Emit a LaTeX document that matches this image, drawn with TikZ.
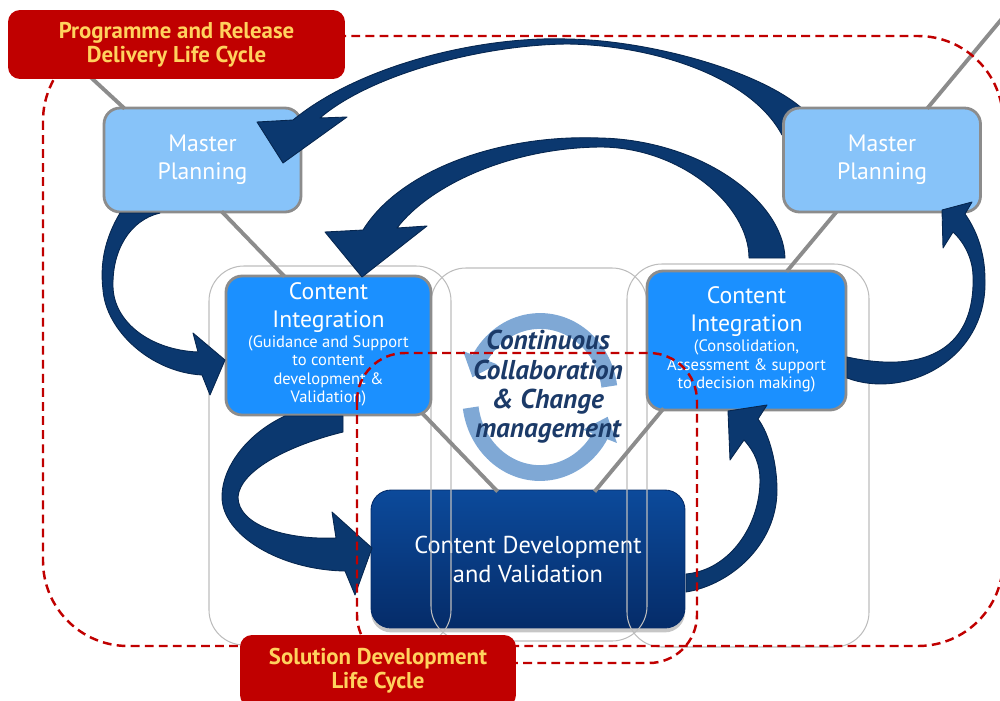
\documentclass[tikz,border=0pt]{standalone}
\usepackage{fontspec}
\setmainfont{PT Sans}
\usetikzlibrary{positioning}
\usetikzlibrary{arrows.meta}
\usetikzlibrary{calc}
\usetikzlibrary{shadows}
\usetikzlibrary{bending}

\definecolor{mpFill}{HTML}{87C3F9}
\definecolor{ciFill}{HTML}{1B90FF}
\definecolor{boxEdge}{HTML}{8C8C8C}
\definecolor{cdTop}{HTML}{0C4A9B}
\definecolor{cdBottom}{HTML}{052C69}
\definecolor{arrowBlue}{HTML}{0B386F}
\definecolor{arrowEdge}{HTML}{06264F}
\definecolor{lblRed}{HTML}{C00000}
\definecolor{lblGold}{HTML}{FFD25E}
\definecolor{colGray}{HTML}{BDBDBD}
\definecolor{ringBlue}{HTML}{7FA8D5}
\definecolor{ccNavy}{HTML}{1B3A68}

\newcommand{\ciNote}[1]{{\fontsize{9.4}{10.5}\selectfont\begin{tabular}{@{}c@{}}#1\end{tabular}}}

\tikzset{
  box/.style={rectangle, rounded corners=0.32cm, draw=boxEdge, line width=1.6pt, text=white, align=center},
  mpbox/.style={box, fill=mpFill, minimum width=3.94cm, minimum height=2.08cm, font=\fontsize{13.5}{16}\selectfont},
  cibox/.style={box, fill=ciFill, minimum width=4.1cm, minimum height=2.78cm, inner sep=1pt, font=\fontsize{13.5}{16}\selectfont},
  cdbox/.style={rectangle, rounded corners=0.4cm, top color=cdTop, bottom color=cdBottom, draw=cdBottom, line width=0.5pt,
    minimum width=6.28cm, minimum height=2.76cm, text=white, align=center, font=\fontsize{13.9}{16.5}\selectfont,
    drop shadow={shadow xshift=0pt, shadow yshift=-2.5pt, opacity=0.45}},
  lbl/.style={rectangle, rounded corners=0.24cm, fill=lblRed, text=lblGold, align=center, font=\bfseries\fontsize{13}{13.8}\selectfont},
  link/.style={draw=boxEdge, line width=2.2pt},
  column/.style={draw=colGray, line width=0.6pt, rounded corners=0.7cm},
  lifecycle/.style={draw=lblRed, line width=1.4pt, dash pattern=on 5pt off 3pt},
  bigarrow/.style={fill=arrowBlue, draw=arrowEdge, line width=0.5pt, line join=round},
  ringarrow/.style={draw=ringBlue, line width=9pt, -{Triangle[width=20pt, length=12pt]}}
}

\begin{document}
\begin{tikzpicture}[x=0.02cm, y=-0.02cm]

  \useasboundingbox (0, 0) rectangle (1000, 700);

  % ends of the V line
  \coordinate (vTL) at (85, 72);
  \coordinate (vTR) at (1005, 15);

  % development box
  \node at (528, 559) (cd) [cdbox] {Content Development\\and Validation};

  % columns
  \draw [column] (209, 266) rectangle (451, 645);
  \draw [column] (431, 268) rectangle (647, 641);
  \draw [column] (627, 264) rectangle (869, 647);

  % V line
  \node at (202.5, 160) (mpL) [mpbox] {Master\\Planning};
  \node at (328.5, 345.5) (ciL) [cibox] {Content\\Integration\\\ciNote{(Guidance and Support\\to content\\development \&\\Validation)}};
  \node at (746.5, 340.5) (ciR) [cibox, minimum width=3.98cm] {Content\\Integration\\\ciNote{(Consolidation,\\Assessment \& support\\to decision making)}};
  \coordinate (mpRsw) at (783, 212);
  \draw [link] (vTL) -- ($(mpL.north west) + (22, 2)$);
  \draw [link] ($(mpL.south west) + (119, -2)$) -- ($(ciL.north west) + (60, 2)$);
  \draw [link] ($(ciL.south east) + (-10, -3)$) -- ($(cd.north west) + (127, 2)$);
  \draw [link] ($(cd.north west) + (224, 2)$) -- ($(ciR.south west) + (18, -3)$);
  \draw [link] ($(ciR.north west) + (141, 2)$) -- ($(mpRsw) + (55, -2)$);

  % top arrow
  \fill [bigarrow] (806, 112) .. controls (765, 72) and (650, 40) .. (567, 39)
    .. controls (480, 36) and (360, 65) .. (293, 120)
    -- (257, 122) -- (283, 163) -- (347, 117) -- (320, 118)
    .. controls (370, 75) and (480, 45) .. (567, 44)
    .. controls (650, 45) and (750, 75) .. (782, 135) -- cycle;

  \node at (882, 160) (mpR) [mpbox] {Master\\Planning};
  \draw [link] ($(mpR.north west) + (145, 2)$) -- (vTR);

  % loop arrows
  \fill [bigarrow] (785, 258) .. controls (783, 200) and (700, 140) .. (600, 138)
    .. controls (500, 134) and (400, 170) .. (363, 230)
    -- (325, 232) -- (362, 277) -- (427, 226) -- (397, 228)
    .. controls (430, 185) and (510, 148) .. (600, 147)
    .. controls (680, 147) and (749, 205) .. (749, 258) -- cycle;
  \fill [bigarrow] (120, 213) .. controls (104, 240) and (100, 265) .. (103, 290)
    .. controls (106, 330) and (150, 372) .. (202, 375)
    -- (210, 395) -- (225, 360) -- (193, 333) -- (198, 352)
    .. controls (150, 350) and (114, 322) .. (113, 287)
    .. controls (112, 250) and (130, 220) .. (160, 213) -- cycle;
  \fill [bigarrow] (285, 416) .. controls (250, 432) and (222, 465) .. (222, 497)
    .. controls (222, 535) and (280, 570) .. (345, 571)
    -- (355, 595) -- (372, 548) -- (332, 512) -- (336, 538)
    .. controls (285, 540) and (238, 525) .. (238, 497)
    .. controls (240, 470) and (290, 445) .. (343, 432) -- (343, 416) -- cycle;
  \fill [bigarrow] (686, 592) .. controls (730, 585) and (777, 545) .. (777, 490)
    .. controls (777, 465) and (770, 435) .. (758, 419)
    -- (767, 405) -- (728, 411) -- (730, 460) -- (744, 440)
    .. controls (755, 452) and (760, 465) .. (760, 480)
    .. controls (760, 525) and (730, 570) .. (686, 574) -- cycle;
  \fill [bigarrow] (847, 378) .. controls (905, 400) and (987, 360) .. (985, 280)
    .. controls (985, 250) and (975, 228) .. (965, 214)
    -- (972, 202) -- (942, 210) -- (943, 248) -- (953, 232)
    .. controls (965, 243) and (973, 260) .. (973, 277)
    .. controls (975, 345) and (930, 375) .. (847, 357) -- cycle;

  % collaboration ring
  \draw [ringarrow] (609.3, 386.4) arc [start angle=-8, end angle=-165, x radius=70, y radius=76];
  \draw [ringarrow] (470.7, 407.6) arc [start angle=172, end angle=15, x radius=70, y radius=76];
  \node at (548, 387) (ccText) [text=ccNavy, align=center, font=\bfseries\itshape\fontsize{15.5}{16.7}\selectfont] {Continuous\\Collaboration\\\& Change\\management};

  % life cycles
  \draw [lifecycle, rounded corners=1.7cm] (43, 36) rectangle (1003, 646);
  \draw [lifecycle, rounded corners=0.96cm] (357, 353) rectangle (697, 663);
  \node at (176.5, 44.5) (progLbl) [lbl, minimum width=6.74cm, minimum height=1.38cm] {Programme and Release\\Delivery Life Cycle};
  \node at (378, 671) (solLbl) [lbl, minimum width=5.52cm, minimum height=1.44cm] {Solution Development\\Life Cycle};

\end{tikzpicture}
\end{document}
